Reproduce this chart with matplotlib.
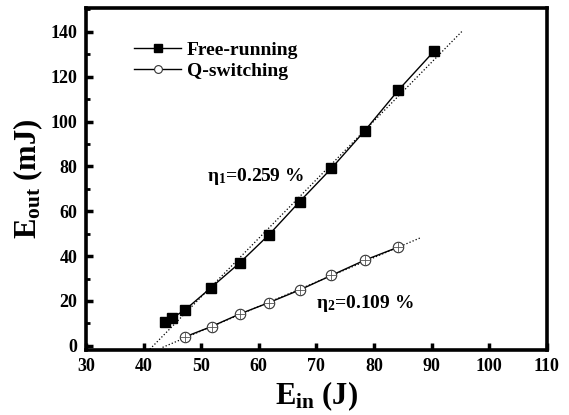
import matplotlib.pyplot as plt
from matplotlib.ticker import MultipleLocator

plt.rcParams['font.family'] = ['Liberation Serif', 'DejaVu Serif']
plt.rcParams['font.weight'] = 'bold'
plt.rcParams['mathtext.fontset'] = 'custom'
plt.rcParams['mathtext.rm'] = 'Liberation Serif:bold'
plt.rcParams['mathtext.bf'] = 'Liberation Serif:bold'
plt.rcParams['mathtext.it'] = 'Liberation Serif:bold'

# data
ein_free = [43.8, 44.9, 47.2, 51.7, 56.7, 61.8, 67.1, 72.6, 78.4, 84.2, 90.5]
eout_free = [10.4, 12.3, 16.0, 25.9, 37.0, 49.6, 64.3, 79.1, 95.9, 113.9, 131.6]
ein_q = [47.2, 51.8, 56.7, 61.8, 67.1, 72.6, 78.4, 84.2]
eout_q = [4.0, 8.6, 14.2, 19.3, 24.9, 31.4, 38.2, 44.0]

# linear fits (dotted)
fit1_x = [41.1, 95.3]
fit1_y = [-1.5, 140.3]
fit2_x = [43.3, 88.0]
fit2_y = [-0.7, 48.1]

fig = plt.figure(figsize=(5.69, 4.15), dpi=100)
ax = fig.add_axes([0.151, 0.157, 0.810, 0.824])

ax.plot(fit1_x, fit1_y, ':', color='black', lw=0.9)
ax.plot(fit2_x, fit2_y, ':', color='black', lw=0.9)
ax.plot(ein_free, eout_free, '-', color='black', lw=1.0, marker='s', ms=7.5,
        mfc='black', mec='black', label='Free-running')
ax.plot(ein_q, eout_q, '-', color='black', lw=1.0, marker='o', ms=7.5,
        mfc='white', mec='#333333', mew=0.8, label='Q-switching')
# crosses inside the open circles
ax.plot(ein_q, eout_q, linestyle='none', marker='+', ms=7, mec='#555555', mew=0.6)

ax.text(51.0, 75.5, r'$\eta_1$=0.259 %', fontsize=14, fontweight='bold',
        ha='left', va='center')
ax.text(70.0, 19.0, r'$\eta_2$=0.109 %', fontsize=14, fontweight='bold',
        ha='left', va='center')

ax.set_xlim(30, 110)
ax.set_ylim(-1.8, 150.7)
ax.set_xticks(range(30, 111, 10))
ax.set_yticks(range(0, 141, 20))
ax.yaxis.set_minor_locator(MultipleLocator(10))
ax.tick_params(which='major', direction='in', length=5, width=2.5,
               labelsize=13, top=False, right=False, pad=6)
ax.tick_params(which='minor', direction='in', length=3, width=2,
               top=False, right=False)
ax.xaxis.set_tick_params(which='minor', bottom=False)
for lab in ax.get_xticklabels() + ax.get_yticklabels():
    lab.set_fontweight('bold')
for sp in ax.spines.values():
    sp.set_linewidth(2.6)

ax.set_xlabel(r'E$_{\mathbf{in}}$ (J)', fontsize=22, fontweight='bold', labelpad=3)
ax.set_ylabel(r'E$_{\mathbf{out}}$ (mJ)', fontsize=22, fontweight='bold', labelpad=4)

leg = ax.legend(loc='upper left', bbox_to_anchor=(0.105, 0.903), frameon=False,
                fontsize=14, handlelength=2.4, handletextpad=0.3,
                labelspacing=0.2, markerscale=0.75, borderpad=0, borderaxespad=0)

fig.savefig('out.png', dpi=100)
